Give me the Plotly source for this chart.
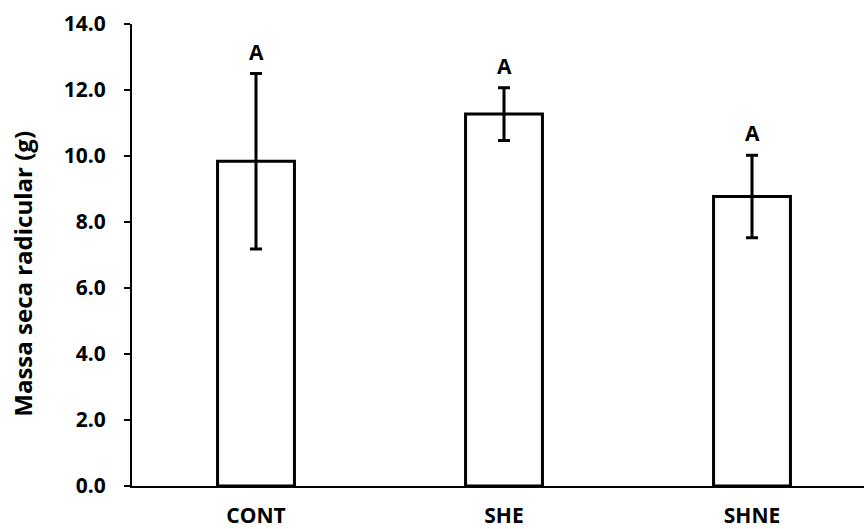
import plotly.graph_objects as go

# Root dry mass per treatment (mean and standard deviation)
categories = ["CONT", "SHE", "SHNE"]
means = [9.84, 11.27, 8.77]
errors = [2.66, 0.80, 1.25]
letters = ["A", "A", "A"]
y_ticks = [0, 2, 4, 6, 8, 10, 12, 14]
y_tick_text = [f"<b>{v:.1f}</b>" for v in y_ticks]

FONT = "Open Sans"

fig = go.Figure()
fig.add_trace(go.Bar(
    x=categories,
    y=means,
    width=0.31,
    marker=dict(color="white", line=dict(color="black", width=3)),
    error_y=dict(type="data", array=errors, visible=True,
                 color="black", thickness=3, width=6),
    showlegend=False,
))

# Significance letters above each error bar
for cat, m, e, t in zip(categories, means, errors, letters):
    fig.add_annotation(x=cat, y=m + e, text=f"<b>{t}</b>", showarrow=False,
                       yanchor="bottom", yshift=6,
                       font=dict(family=FONT, size=21, color="black"))

# Y-axis title
fig.add_annotation(xref="paper", yref="paper", x=-0.150, y=0.46,
                   text="<b>Massa seca radicular (g)</b>", textangle=-90,
                   showarrow=False, xanchor="center", yanchor="middle",
                   font=dict(family=FONT, size=24, color="black"))

fig.update_layout(
    width=864, height=529,
    margin=dict(l=132, r=0, t=24, b=43),
    paper_bgcolor="white", plot_bgcolor="white",
    font=dict(family=FONT, color="black"),
    xaxis=dict(
        range=[-0.5, 2.4516],
        tickvals=categories, ticktext=[f"<b>{c}</b>" for c in categories],
        showline=True, linecolor="black", linewidth=2,
        ticks="", showgrid=False, zeroline=False,
        tickfont=dict(family=FONT, size=21, color="black"),
        ticklabelstandoff=10,
    ),
    yaxis=dict(
        range=[0, 14],
        tickvals=y_ticks, ticktext=y_tick_text,
        showline=True, linecolor="black", linewidth=2,
        ticks="outside", ticklen=6, tickwidth=2, tickcolor="black",
        showgrid=False, zeroline=False,
        tickfont=dict(family=FONT, size=21, color="black"),
        ticklabelstandoff=14,
    ),
)

fig.write_html("out.html")
